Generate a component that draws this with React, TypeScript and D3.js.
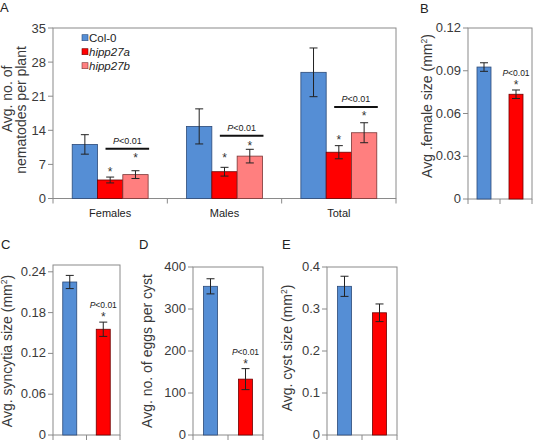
import React from 'react';
import * as d3 from 'd3';

// ---------- Panel A data ----------
const categories = ['Females', 'Males', 'Total'];
const seriesNames = ['Col-0', 'hipp27a', 'hipp27b'];
const col0Means = [11.1, 14.8, 25.9];
const col0Err = [2.0, 3.6, 5.0];
const hipp27aMeans = [3.8, 5.5, 9.5];
const hipp27aErr = [0.6, 0.9, 1.35];
const hipp27bMeans = [4.9, 8.7, 13.5];
const hipp27bErr = [0.8, 1.4, 2.05];
const bracketLevels = [10.2, 12.9, 18.8];
const starLevelsA = [6.1, 9.0, 12.7];
const starLevelsB = [9.0, 11.4, 17.6];
const yTicksA = [0, 7, 14, 21, 28, 35];

// ---------- Small panels data ----------
const genotypes = ['Col-0', 'hipp27a'];
const femaleSizeMeans = [0.0926, 0.0735];
const femaleSizeErr = [0.003, 0.003];
const femaleSizeTicks = [0, 0.03, 0.06, 0.09, 0.12];
const syncytiaMeans = [0.225, 0.1555];
const syncytiaErr = [0.0097, 0.0105];
const syncytiaTicks = [0, 0.06, 0.12, 0.18, 0.24];
const eggsMeans = [354, 133];
const eggsErr = [18, 25];
const eggsTicks = [0, 100, 200, 300, 400];
const cystMeans = [0.354, 0.291];
const cystErr = [0.024, 0.021];
const cystTicks = [0, 0.1, 0.2, 0.3, 0.4];

const COLORS = ['#558ED5', '#FF0000', '#FF7F7F'];
const STROKES = ['#2c4a78', '#6e0000', '#7a3535'];
const FRAME = '#8a8a8a';
const TEXT = '#3a3a3a';
const FONT = '"Liberation Sans", Arial, sans-serif';

function PText({ x, y, size }: { x: number; y: number; size: number }) {
  return (
    <text x={x} y={y} fontSize={size} textAnchor="middle" fill="#222" fontFamily={FONT}>
      <tspan fontStyle="italic">P</tspan>
      <tspan>&lt;0.01</tspan>
    </text>
  );
}

function Star({ x, cy, size }: { x: number; cy: number; size: number }) {
  return (
    <text x={x} y={cy + size * 0.58} fontSize={size} textAnchor="middle" fill="#333" fontFamily={FONT}>
      *
    </text>
  );
}

function ErrBar({ x, y1, y2, cap }: { x: number; y1: number; y2: number; cap: number }) {
  return (
    <g stroke="#222" strokeWidth={1}>
      <line x1={x} x2={x} y1={y1} y2={y2} />
      <line x1={x - cap} x2={x + cap} y1={y1} y2={y1} />
      <line x1={x - cap} x2={x + cap} y1={y2} y2={y2} />
    </g>
  );
}

function PanelA() {
  const left = 53, right = 396, top = 28, bottom = 198.5;
  const y = d3.scaleLinear().domain([0, 35]).range([bottom, top]);
  const x0 = d3.scaleBand<string>().domain(categories).range([left, right]).paddingInner(0).paddingOuter(0);
  const bw = x0.bandwidth();
  const x1 = d3.scaleBand<string>().domain(seriesNames).range([bw * 0.168, bw * 0.832]).padding(0);
  const means = [col0Means, hipp27aMeans, hipp27bMeans];
  const errs = [col0Err, hipp27aErr, hipp27bErr];
  const bounds = [...categories.map((c) => x0(c)!), right];
  return (
    <g fontFamily={FONT}>
      <text x={0} y={12} fontSize={13} fill="#222">A</text>
      {/* frame */}
      <rect x={left} y={top} width={right - left} height={bottom - top} fill="none" stroke={FRAME} strokeWidth={1} />
      {yTicksA.map((t) => (
        <g key={t}>
          <line x1={left - 5} x2={left} y1={y(t)} y2={y(t)} stroke={FRAME} />
          <text x={left - 7} y={y(t) + 4.5} fontSize={13} textAnchor="end" fill={TEXT}>{t}</text>
        </g>
      ))}
      {bounds.map((b, i) => (
        <line key={i} x1={b} x2={b} y1={bottom} y2={bottom + 5} stroke={FRAME} />
      ))}
      {categories.map((c) => (
        <text key={c} x={x0(c)! + bw / 2} y={217} fontSize={11} textAnchor="middle" fill="#222">{c}</text>
      ))}
      {/* bars */}
      {categories.map((c, ci) =>
        seriesNames.map((s, si) => {
          const bx = x0(c)! + x1(s)!;
          const v = means[si][ci];
          const e = errs[si][ci];
          const cx = bx + x1.bandwidth() / 2;
          return (
            <g key={c + s}>
              <rect x={bx} y={y(v)} width={x1.bandwidth()} height={bottom - y(v)} fill={COLORS[si]} stroke={STROKES[si]} strokeWidth={0.8} />
              <ErrBar x={cx} y1={y(v + e)} y2={y(v - e)} cap={4} />
            </g>
          );
        })
      )}
      {/* significance annotations */}
      {categories.map((c, ci) => {
        const ra = x0(c)! + x1('hipp27a')!;
        const rb = x0(c)! + x1('hipp27b')! + x1.bandwidth();
        const x1s = ra + 8;
        const x2s = rb + 1;
        const ly = y(bracketLevels[ci]);
        return (
          <g key={'sig' + c}>
            <line x1={x1s} x2={x2s} y1={ly} y2={ly} stroke="#111" strokeWidth={2} />
            <PText x={(x1s + x2s) / 2} y={ly - 5} size={9} />
            <Star x={ra + x1.bandwidth() / 2} cy={y(starLevelsA[ci])} size={12} />
            <Star x={x0(c)! + x1('hipp27b')! + x1.bandwidth() / 2} cy={y(starLevelsB[ci])} size={12} />
          </g>
        );
      })}
      {/* legend */}
      {seriesNames.map((s, i) => (
        <g key={s}>
          <rect x={82} y={34.7 + i * 14} width={6} height={6} fill={COLORS[i]} stroke={STROKES[i]} strokeWidth={0.6} />
          <text x={89} y={41.7 + i * 14} fontSize={11.5} fill="#222" fontStyle={i === 0 ? 'normal' : 'italic'}>{s}</text>
        </g>
      ))}
      {/* y label */}
      <text transform={`translate(12,99) rotate(-90)`} fontSize={14} textAnchor="middle" fill={TEXT}>Avg. no. of</text>
      <text transform={`translate(26,110) rotate(-90)`} fontSize={14} textAnchor="middle" fill={TEXT}>nematodes per plant</text>
    </g>
  );
}

type SmallProps = {
  letter: string;
  letterX: number;
  letterY: number;
  left: number;
  right: number;
  top: number;
  bottom: number;
  ymax: number;
  ticks: number[];
  means: number[];
  errs: number[];
  fmt: (v: number) => string;
  label: React.ReactNode;
  labelX: number;
  labelY: number;
  sig: boolean;
};

function SmallPanel(p: SmallProps) {
  const y = d3.scaleLinear().domain([0, p.ymax]).range([p.bottom, p.top]);
  const x = d3.scaleBand<string>().domain(genotypes).range([p.left, p.right]).padding(0);
  const barW = 14;
  const bounds = [p.left, p.left + x.bandwidth(), p.right];
  return (
    <g fontFamily={FONT}>
      <text x={p.letterX} y={p.letterY} fontSize={13} fill="#222">{p.letter}</text>
      <rect x={p.left} y={p.top} width={p.right - p.left} height={p.bottom - p.top} fill="none" stroke={FRAME} strokeWidth={1} />
      {p.ticks.map((t) => (
        <g key={t}>
          <line x1={p.left - 5} x2={p.left} y1={y(t)} y2={y(t)} stroke={FRAME} />
          <text x={p.left - 7} y={y(t) + 4} fontSize={13} textAnchor="end" fill={TEXT}>{p.fmt(t)}</text>
        </g>
      ))}
      {bounds.map((b, i) => (
        <line key={i} x1={b} x2={b} y1={p.bottom} y2={Math.min(p.bottom + 5, 442)} stroke={FRAME} />
      ))}
      {genotypes.map((g, i) => {
        const cx = x(g)! + x.bandwidth() / 2;
        const v = p.means[i];
        const e = p.errs[i];
        return (
          <g key={g}>
            <rect x={cx - barW / 2} y={y(v)} width={barW} height={p.bottom - y(v)} fill={COLORS[i]} stroke={STROKES[i]} strokeWidth={0.8} />
            <ErrBar x={cx} y1={y(v + e)} y2={y(v - e)} cap={4} />
            {p.sig && i === 1 && (
              <g>
                <Star x={cx} cy={y(v + e) - 8} size={12} />
                <PText x={cx} y={y(v + e) - 14} size={8.5} />
              </g>
            )}
          </g>
        );
      })}
      <text transform={`translate(${p.labelX},${p.labelY}) rotate(-90)`} fontSize={14} textAnchor="middle" fill={TEXT}>{p.label}</text>
    </g>
  );
}

export default function App() {
  const mm2 = (pre: string) => (
    <>
      {pre} (mm<tspan dy={-5} fontSize={8.5}>2</tspan><tspan dy={5}>)</tspan>
    </>
  );
  return (
    <svg width={533} height={442} style={{ position: 'absolute', left: 0, top: 0, background: '#fff' }}>
      <rect x={0} y={0} width={533} height={442} fill="#fff" />
      <PanelA />
      <SmallPanel letter="B" letterX={420} letterY={13} left={468} right={532} top={28} bottom={199} ymax={0.12}
        ticks={femaleSizeTicks} means={femaleSizeMeans} errs={femaleSizeErr}
        fmt={(v) => (v === 0 ? '0' : d3.format('.2f')(v))}
        label={mm2('Avg .female size')} labelX={432} labelY={106} sig={true} />
      <SmallPanel letter="C" letterX={1} letterY={249} left={53} right={120} top={265} bottom={435} ymax={0.25}
        ticks={syncytiaTicks} means={syncytiaMeans} errs={syncytiaErr}
        fmt={(v) => (v === 0 ? '0' : d3.format('.2f')(v))}
        label={mm2('Avg. syncytia size')} labelX={12} labelY={351} sig={true} />
      <SmallPanel letter="D" letterX={139} letterY={249} left={193} right={263} top={267} bottom={435} ymax={400}
        ticks={eggsTicks} means={eggsMeans} errs={eggsErr}
        fmt={(v) => String(v)}
        label={'Avg. no. of eggs per cyst'} labelX={152} labelY={351} sig={true} />
      <SmallPanel letter="E" letterX={282} letterY={249} left={327} right={397} top={267} bottom={435} ymax={0.4}
        ticks={cystTicks} means={cystMeans} errs={cystErr}
        fmt={(v) => (v === 0 ? '0' : d3.format('.1f')(v))}
        label={mm2('Avg. cyst size')} labelX={292} labelY={348} sig={false} />
    </svg>
  );
}
